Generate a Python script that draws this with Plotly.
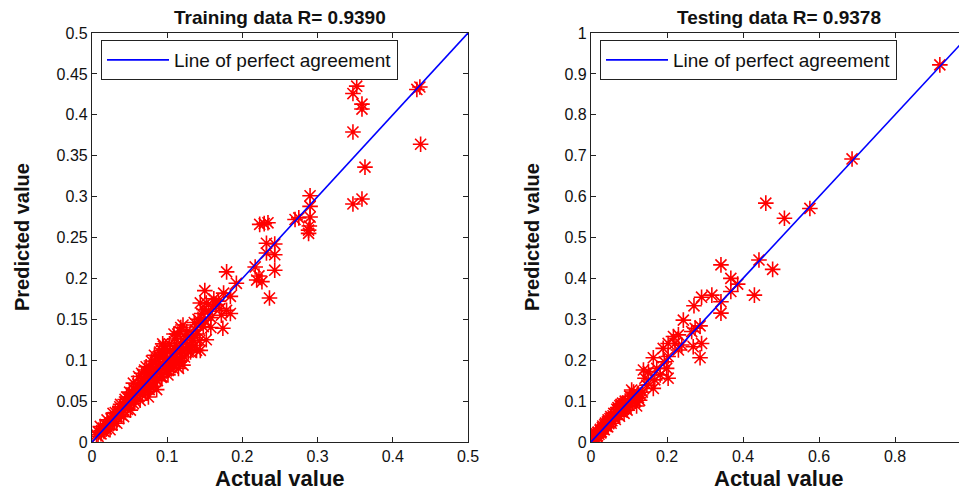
import plotly.graph_objects as go

# ---------------- data ----------------
train_actual = [0.352,0.347,0.359,0.359,0.347,0.432,0.436,0.437,0.363,0.347,0.359,0.290,0.290,0.290,0.270,0.275,0.288,0.288,0.289,
                0.223,0.234,0.229,0.232,0.243,0.232,0.243,0.217,0.243,0.179,0.219,0.226,0.222,0.192,0.236,0.150,0.175,0.184,
                0.144,0.152,0.170,0.179,0.184,0.172,0.146,0.150,0.144,0.174,0.121,0.117,0.126,0.135,0.148,0.152,0.130,0.139,
                0.144,0.095,0.093,0.104,0.110,0.117,0.121,0.115,0.090,0.097,0.070,0.082,0.093,0.101,0.055,0.068,0.082,0.086,
                0.064,0.075,0.046,0.055,0.064,0.037,0.042,0.051,0.028,0.033,0.042,0.020,0.024,0.033,0.011,0.015,0.024,0.006,
                0.107,0.112,0.125,0.132,0.138,0.141,0.155,0.160,0.165,0.158,0.128,0.119,0.105,0.099,0.095,0.088,0.085,0.080,
                0.077,0.074,0.072,0.070,0.066,0.062,0.060,0.058,0.053,0.050,0.048,0.045,0.040,0.038,0.035,0.031,0.029,0.026,
                0.022,0.018,0.016,0.013,0.009,0.008,0.012,0.019,0.027,0.036,0.044,0.052,0.061,0.069,0.078,0.084,0.089,0.098,
                0.103,0.110,0.114,0.087,0.091,0.076,0.067,0.057,0.047,0.039,0.030,0.100,0.106,0.113,0.120,0.127,0.134,0.140,
                0.062,0.066,0.072,0.079,0.083,0.090,0.094,0.098,0.102,0.108,0.116,0.123,0.131,0.137,0.143,0.056,0.050,0.044,
                0.071,0.078,0.085,0.092,0.099,0.104,0.111,0.118,0.124,0.136,0.149,0.162,0.168,0.158,0.118,0.109]
train_pred = [0.435,0.426,0.413,0.407,0.379,0.431,0.434,0.364,0.336,0.291,0.297,0.301,0.288,0.275,0.272,0.274,0.259,0.255,0.264,
              0.266,0.268,0.267,0.243,0.242,0.231,0.229,0.214,0.210,0.208,0.198,0.196,0.203,0.194,0.176,0.185,0.182,0.178,
              0.170,0.170,0.163,0.161,0.157,0.155,0.157,0.149,0.145,0.139,0.143,0.135,0.135,0.131,0.141,0.125,0.117,0.112,
              0.112,0.117,0.112,0.112,0.104,0.100,0.094,0.090,0.096,0.092,0.088,0.084,0.080,0.082,0.072,0.070,0.068,0.064,
              0.060,0.055,0.055,0.047,0.051,0.043,0.039,0.039,0.035,0.031,0.031,0.027,0.023,0.023,0.019,0.017,0.015,0.009,
              0.108,0.118,0.122,0.128,0.137,0.150,0.160,0.166,0.168,0.152,0.110,0.108,0.098,0.101,0.104,0.093,0.090,0.078,
              0.086,0.080,0.073,0.066,0.075,0.066,0.062,0.057,0.060,0.052,0.047,0.048,0.041,0.046,0.037,0.036,0.029,0.028,
              0.020,0.021,0.013,0.014,0.012,0.007,0.010,0.016,0.025,0.034,0.044,0.055,0.071,0.078,0.091,0.098,0.105,0.114,
              0.120,0.126,0.132,0.075,0.085,0.064,0.058,0.050,0.040,0.033,0.025,0.089,0.095,0.102,0.112,0.119,0.124,0.132,
              0.080,0.084,0.092,0.099,0.106,0.110,0.120,0.108,0.096,0.090,0.098,0.104,0.110,0.118,0.124,0.064,0.061,0.052,
              0.062,0.068,0.076,0.079,0.087,0.091,0.113,0.121,0.129,0.146,0.162,0.175,0.172,0.140,0.140,0.132]

test_actual = [0.918,0.687,0.576,0.460,0.509,0.442,0.478,0.342,0.368,0.386,0.368,0.430,0.342,0.318,0.291,0.271,0.342,0.243,
               0.287,0.274,0.265,0.291,0.287,0.269,0.230,0.217,0.221,0.239,0.203,0.190,0.230,0.203,0.193,0.164,0.138,0.151,
               0.173,0.199,0.142,0.168,0.203,0.182,0.147,0.164,0.107,0.124,
               0.125,0.118,0.110,0.105,0.100,0.097,0.092,0.088,0.085,0.080,0.078,0.073,0.070,0.066,0.062,0.058,0.055,0.050,
               0.047,0.043,0.040,0.036,0.033,0.030,0.027,0.024,0.021,0.018,0.015,0.012,0.010,0.008,0.006,0.004,0.003,0.090,
               0.083,0.076,0.068,0.060,0.052,0.045,0.038,0.031,0.025,0.019,0.014,0.115,0.120,0.130,0.095,0.087,0.075,0.064,
               0.053,0.044,0.035,0.026,0.017,0.102,0.112,0.135,0.128,0.079,0.071]
test_pred = [0.922,0.692,0.571,0.584,0.547,0.445,0.422,0.433,0.400,0.386,0.368,0.359,0.343,0.359,0.354,0.333,0.315,0.298,
             0.284,0.278,0.270,0.241,0.206,0.233,0.262,0.258,0.241,0.237,0.241,0.229,0.225,0.209,0.196,0.206,0.176,0.172,
             0.180,0.180,0.156,0.152,0.156,0.164,0.139,0.131,0.127,0.119,
             0.108,0.100,0.103,0.095,0.090,0.098,0.085,0.092,0.080,0.087,0.075,0.080,0.068,0.072,0.060,0.064,0.052,0.057,
             0.045,0.049,0.038,0.042,0.031,0.035,0.025,0.029,0.019,0.023,0.013,0.017,0.009,0.012,0.006,0.010,0.004,0.100,
             0.095,0.089,0.080,0.070,0.062,0.054,0.046,0.039,0.031,0.024,0.020,0.110,0.088,0.115,0.078,0.070,0.063,0.055,
             0.046,0.037,0.030,0.022,0.015,0.112,0.122,0.122,0.102,0.092,0.084]

line_train = [0.0, 0.5]
line_test = [0.0, 1.0]

train_ticks = [0, 0.05, 0.1, 0.15, 0.2, 0.25, 0.3, 0.35, 0.4, 0.45, 0.5]
train_ticktext = ["0", "0.05", "0.1", "0.15", "0.2", "0.25", "0.3", "0.35", "0.4", "0.45", "0.5"]
train_xticks = [0, 0.1, 0.2, 0.3, 0.4, 0.5]
train_xticktext = ["0", "0.1", "0.2", "0.3", "0.4", "0.5"]
test_yticks = [0, 0.1, 0.2, 0.3, 0.4, 0.5, 0.6, 0.7, 0.8, 0.9, 1.0]
test_yticktext = ["0", "0.1", "0.2", "0.3", "0.4", "0.5", "0.6", "0.7", "0.8", "0.9", "1"]
test_xticks = [0, 0.2, 0.4, 0.6, 0.8]
test_xticktext = ["0", "0.2", "0.4", "0.6", "0.8"]

titles = ["Training data R= 0.9390", "Testing data R= 0.9378"]
legend_label = "Line of perfect agreement"

# ---------------- figure ----------------
# the page body has an 8px margin, so the figure is offset by 8px
OFF = 8
W, H = 967 - OFF, 491 - OFF
FONT = "Liberation Sans, Arial, sans-serif"


def px(xp):
    return (xp - OFF) / W


def py(yp):
    return 1 - (yp - OFF) / H


fig = go.Figure()

marker = dict(symbol="asterisk-open", size=13, color="red", line=dict(color="red", width=1.6))

fig.add_trace(go.Scatter(x=train_actual, y=train_pred, mode="markers", marker=marker,
                         showlegend=False, xaxis="x", yaxis="y"))
fig.add_trace(go.Scatter(x=line_train, y=line_train, mode="lines", line=dict(color="blue", width=1.6),
                         name=legend_label, xaxis="x", yaxis="y", legend="legend"))
fig.add_trace(go.Scatter(x=test_actual, y=test_pred, mode="markers", marker=marker,
                         showlegend=False, xaxis="x2", yaxis="y2"))
fig.add_trace(go.Scatter(x=line_test, y=line_test, mode="lines", line=dict(color="blue", width=1.6),
                         name=legend_label, xaxis="x2", yaxis="y2", legend="legend2"))

axis_common = dict(showgrid=False, zeroline=False, showline=True, linecolor="#222", linewidth=1.2,
                   ticks="inside", ticklen=5, tickcolor="#222", automargin=False,
                   tickfont=dict(family=FONT, size=16, color="#111"))

test_xmax = (967 - 591) / 380.0

leg_common = dict(xanchor="left", yanchor="top", bgcolor="white", bordercolor="#222", borderwidth=1,
                  itemwidth=62, font=dict(family=FONT, size=19, color="#111"), tracegroupgap=0)

fig.update_layout(
    width=W, height=H, margin=dict(l=0, r=0, t=0, b=0, autoexpand=False),
    paper_bgcolor="white", plot_bgcolor="white",
    xaxis=dict(domain=[px(92), px(468)], range=[0, 0.5], tickvals=train_xticks, ticktext=train_xticktext,
               mirror="ticks", anchor="y", **axis_common),
    yaxis=dict(domain=[py(442), py(33)], range=[0, 0.5], tickvals=train_ticks, ticktext=train_ticktext,
               mirror="ticks", anchor="x", **axis_common),
    xaxis2=dict(domain=[px(591), 1.0], range=[0, test_xmax], tickvals=test_xticks, ticktext=test_xticktext,
                mirror="ticks", anchor="y2", **axis_common),
    yaxis2=dict(domain=[py(442), py(33)], range=[0, 1.0], tickvals=test_yticks, ticktext=test_yticktext,
                mirror=False, anchor="x2", **axis_common),
    legend=dict(x=px(101), y=py(40), **leg_common),
    legend2=dict(x=px(600), y=py(40), **leg_common),
)

ann = []
for cx, t in [(px(280), titles[0]), (px(779), titles[1])]:
    ann.append(dict(x=cx, y=py(18), xref="paper", yref="paper", text="<b>%s</b>" % t, showarrow=False,
                    xanchor="center", yanchor="middle", font=dict(family=FONT, size=19, color="#111")))
for cx in [px(280), px(779)]:
    ann.append(dict(x=cx, y=py(478), xref="paper", yref="paper", text="<b>Actual value</b>", showarrow=False,
                    xanchor="center", yanchor="middle", font=dict(family=FONT, size=22, color="#111")))
for cx in [px(22), px(532)]:
    ann.append(dict(x=cx, y=py(237), xref="paper", yref="paper", text="<b>Predicted value</b>", showarrow=False,
                    textangle=-90, xanchor="center", yanchor="middle", font=dict(family=FONT, size=20, color="#111")))
fig.update_layout(annotations=ann)

fig.write_html("out.html")
